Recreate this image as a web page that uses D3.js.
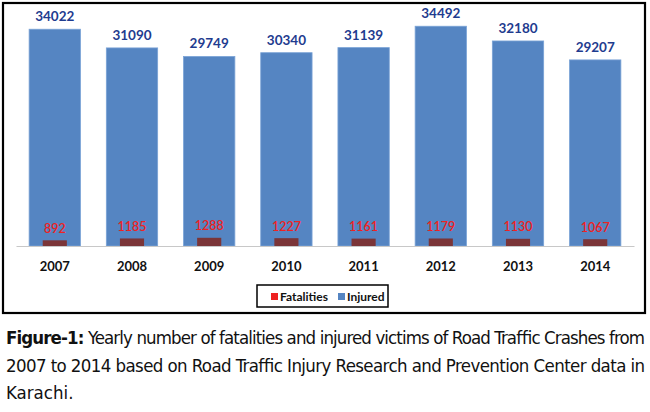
<!DOCTYPE html>
<html>
<head>
<meta charset="utf-8">
<script src="https://cdn.jsdelivr.net/npm/d3@7"></script>
<style>
  body { margin: 0; background: #fff; }
  svg { display: block; }
</style>
</head>
<body>
<div id="chart"></div>
<script>
// chart values
const years = ["2007", "2008", "2009", "2010", "2011", "2012", "2013", "2014"];
const injured = [34022, 31090, 29749, 30340, 31139, 34492, 32180, 29207];
const fatalities = [892, 1185, 1288, 1227, 1161, 1179, 1130, 1067];
const legendLabels = ["Fatalities", "Injured"];
const captionBold = "Figure-1:";
const captionLines = [
    " Yearly number of fatalities and injured victims of Road Traffic Crashes from",
    "2007 to 2014 based on Road Traffic Injury Research and Prevention Center data in",
    "Karachi."
];

const W = 650, H = 412;
const blue = "#5585c2", maroon = "#7b3538", red = "#ee2222", darkBlue = "#1f3c8f";
const labelFont = "Lato, 'Open Sans', sans-serif";

const svg = d3.select("#chart").append("svg")
    .attr("width", W)
    .attr("height", H);

// outer frame
svg.append("rect")
    .attr("x", 3).attr("y", 3)
    .attr("width", 642).attr("height", 310)
    .attr("fill", "none")
    .attr("stroke", "#000")
    .attr("stroke-width", 2.2);

const x = d3.scaleBand()
    .domain(years)
    .range([16, 634])
    .paddingInner(0.335)
    .paddingOuter(0.17);

const y = d3.scaleLinear()
    .domain([0, 35000])
    .range([246, 23]);

// injured bars
svg.append("g").selectAll("rect")
    .data(injured)
    .join("rect")
    .attr("x", (d, i) => x(years[i]))
    .attr("y", d => y(d))
    .attr("width", x.bandwidth())
    .attr("height", d => y(0) - y(d))
    .attr("fill", blue)
    .attr("stroke", "#7aa3d6")
    .attr("stroke-width", 0.8);

// fatalities bars (narrower, overlapping)
const fw = x.bandwidth() * 0.47;
svg.append("g").selectAll("rect")
    .data(fatalities)
    .join("rect")
    .attr("x", (d, i) => x(years[i]) + (x.bandwidth() - fw) / 2)
    .attr("y", d => y(d))
    .attr("width", fw)
    .attr("height", d => y(0) - y(d))
    .attr("fill", maroon);

// baseline axis
const xAxis = svg.append("g")
    .attr("transform", `translate(0,${y(0)})`)
    .call(d3.axisBottom(x).tickSize(0).tickPadding(16));
xAxis.select(".domain").attr("stroke", "#c8c8c8").attr("stroke-width", 1.2);
xAxis.selectAll("text")
    .attr("font-family", labelFont)
    .attr("font-weight", "bold")
    .attr("font-size", 13)
    .attr("fill", "#111");

// value labels
svg.append("g").selectAll("text")
    .data(injured)
    .join("text")
    .attr("x", (d, i) => x(years[i]) + x.bandwidth() / 2)
    .attr("y", d => y(d) - 8)
    .attr("text-anchor", "middle")
    .attr("font-family", labelFont)
    .attr("font-weight", "bold")
    .attr("font-size", 13.5)
    .attr("fill", darkBlue)
    .text(d => d);

svg.append("g").selectAll("text")
    .data(fatalities)
    .join("text")
    .attr("x", (d, i) => x(years[i]) + x.bandwidth() / 2)
    .attr("y", d => y(d) - 7.5)
    .attr("text-anchor", "middle")
    .attr("font-family", labelFont)
    .attr("font-weight", "600")
    .attr("font-size", 12.5)
    .attr("fill", red)
    .text(d => d);

// legend
const legend = svg.append("g");
legend.append("rect")
    .attr("x", 257).attr("y", 285)
    .attr("width", 131).attr("height", 22)
    .attr("fill", "#fff")
    .attr("stroke", "#000")
    .attr("stroke-width", 1.5);
const legendColors = [red, blue];
const legendX = [271, 338];
legendLabels.forEach((lab, i) => {
    legend.append("rect")
        .attr("x", legendX[i]).attr("y", 293)
        .attr("width", 7).attr("height", 7)
        .attr("fill", legendColors[i]);
    legend.append("text")
        .attr("x", legendX[i] + 9).attr("y", 301)
        .attr("font-family", labelFont)
        .attr("font-weight", "bold")
        .attr("font-size", 12)
        .attr("fill", "#111")
        .text(lab);
});

// caption
const capFont = "'Liberation Sans Narrow', 'DejaVu Sans Condensed', 'Roboto', sans-serif";
const capY = [344, 372, 399];
const cap1 = svg.append("text")
    .attr("x", 6).attr("y", capY[0])
    .attr("font-family", capFont)
    .attr("font-size", 18.5)
    .attr("fill", "#111")
    .attr("textLength", 639)
    .attr("lengthAdjust", "spacing");
cap1.append("tspan").attr("font-weight", "bold").text(captionBold);
cap1.append("tspan").text(captionLines[0]);

svg.append("text")
    .attr("x", 6).attr("y", capY[1])
    .attr("font-family", capFont)
    .attr("font-size", 18.5)
    .attr("fill", "#111")
    .attr("textLength", 639)
    .attr("lengthAdjust", "spacing")
    .text(captionLines[1]);

svg.append("text")
    .attr("x", 6).attr("y", capY[2])
    .attr("font-family", capFont)
    .attr("font-size", 18.5)
    .attr("fill", "#111")
    .text(captionLines[2]);
</script>
</body>
</html>
